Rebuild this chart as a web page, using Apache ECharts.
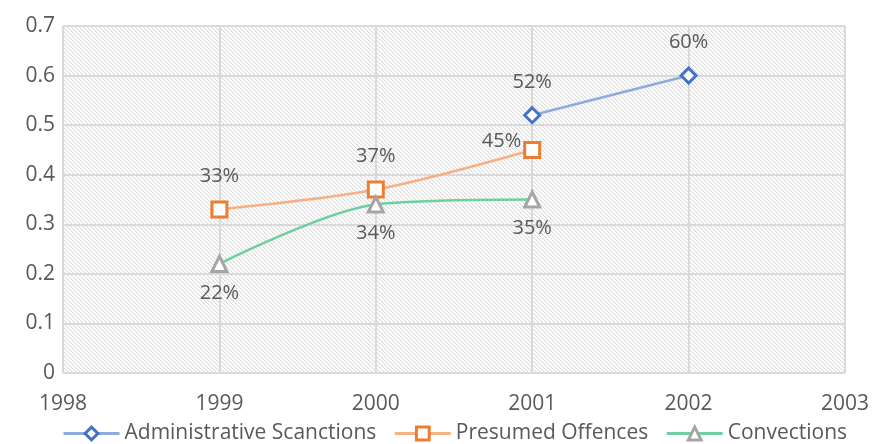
<!DOCTYPE html>
<html>
<head>
<meta charset="utf-8">
<script src="https://cdn.jsdelivr.net/npm/echarts@6/dist/echarts.min.js"></script>
<style>html,body{margin:0;padding:0;background:#fff}#c{width:872px;height:444px}</style>
</head>
<body>
<div id="c"></div>
<script>
var years = [1999, 2000, 2001, 2002];
var adminYears = [2001, 2002];
var adminValues = [0.52, 0.60];
var offenceYears = [1999, 2000, 2001];
var offenceValues = [0.33, 0.37, 0.45];
var convYears = [1999, 2000, 2001];
var convValues = [0.22, 0.34, 0.35];
var seriesNames = ['Administrative Scanctions', 'Presumed Offences', 'Convections'];

function pairs(xs, ys) { return xs.map(function (x, i) { return [x, ys[i]]; }); }

var tile = document.createElement('canvas');
tile.width = 4; tile.height = 4;
var tc = tile.getContext('2d');
tc.fillStyle = '#ffffff'; tc.fillRect(0, 0, 4, 4);
for (var i = 0; i < 4; i++) {
  tc.fillStyle = '#dcdcdc'; tc.fillRect(i, i, 1, 1);
  tc.fillStyle = '#f2f2f2'; tc.fillRect((i + 1) % 4, i, 1, 1);
}

var txt = '#595959';
var FF = 'Open Sans';
var FS = 20;
var chart = echarts.init(document.getElementById('c'), null, {renderer: 'canvas'});
function pct(p) { return Math.round(p.value[1] * 100) + '%'; }
var offenceData = pairs(offenceYears, offenceValues);
offenceData[2] = {value: offenceData[2], label: {position: 'left', distance: 2, offset: [0, -9]}};
chart.setOption({
  animation: false,
  grid: {left: 63, right: 24, top: 26, bottom: 71, show: true, backgroundColor: {image: tile, repeat: 'repeat'}, borderWidth: 0},
  xAxis: {type: 'value', min: 1998, max: 2003, interval: 1,
    axisLine: {show: false}, axisTick: {show: false},
    splitLine: {show: true, lineStyle: {color: '#d9d9d9', width: 2}},
    axisLabel: {color: txt, fontSize: 21, margin: 21, fontFamily: FF, formatter: function (v) { return String(v); }}},
  yAxis: {type: 'value', min: 0, max: 0.7, interval: 0.1,
    axisLine: {show: false}, axisTick: {show: false},
    splitLine: {show: true, lineStyle: {color: '#d9d9d9', width: 2}},
    axisLabel: {color: txt, fontSize: 21, margin: 8, fontFamily: FF, formatter: function (v) { return v === 0 ? '0' : v.toFixed(1); }}},
  legend: {bottom: -5, left: 57, itemWidth: 56, itemHeight: 16, itemGap: 17,
    textStyle: {color: txt, fontSize: 21, fontFamily: FF},
    itemStyle: {borderWidth: 3},
    lineStyle: {width: 3},
    data: seriesNames},
  series: [
    {name: seriesNames[0], type: 'line', data: pairs(adminYears, adminValues),
      symbol: 'diamond', symbolSize: 15,
      lineStyle: {color: '#8faadc', width: 2.5},
      itemStyle: {color: '#ffffff', borderColor: '#4472c4', borderWidth: 3},
      label: {show: true, position: 'top', distance: 14, color: txt, fontSize: FS, fontFamily: FF, formatter: pct}},
    {name: seriesNames[1], type: 'line', data: offenceData, smooth: 0.3,
      symbol: 'rect', symbolSize: 15,
      lineStyle: {color: '#f4b183', width: 2.5},
      itemStyle: {color: '#ffffff', borderColor: '#ed7d31', borderWidth: 3},
      label: {show: true, position: 'top', distance: 14, color: txt, fontSize: FS, fontFamily: FF, formatter: pct}},
    {name: seriesNames[2], type: 'line', data: pairs(convYears, convValues), smooth: 0.3,
      symbol: 'triangle', symbolSize: 15,
      lineStyle: {color: '#6fd09f', width: 2.5},
      itemStyle: {color: '#ffffff', borderColor: '#a5a5a5', borderWidth: 3},
      label: {show: true, position: 'bottom', distance: 10, color: txt, fontSize: FS, fontFamily: FF, formatter: pct}}
  ]
});
</script>
</body>
</html>
